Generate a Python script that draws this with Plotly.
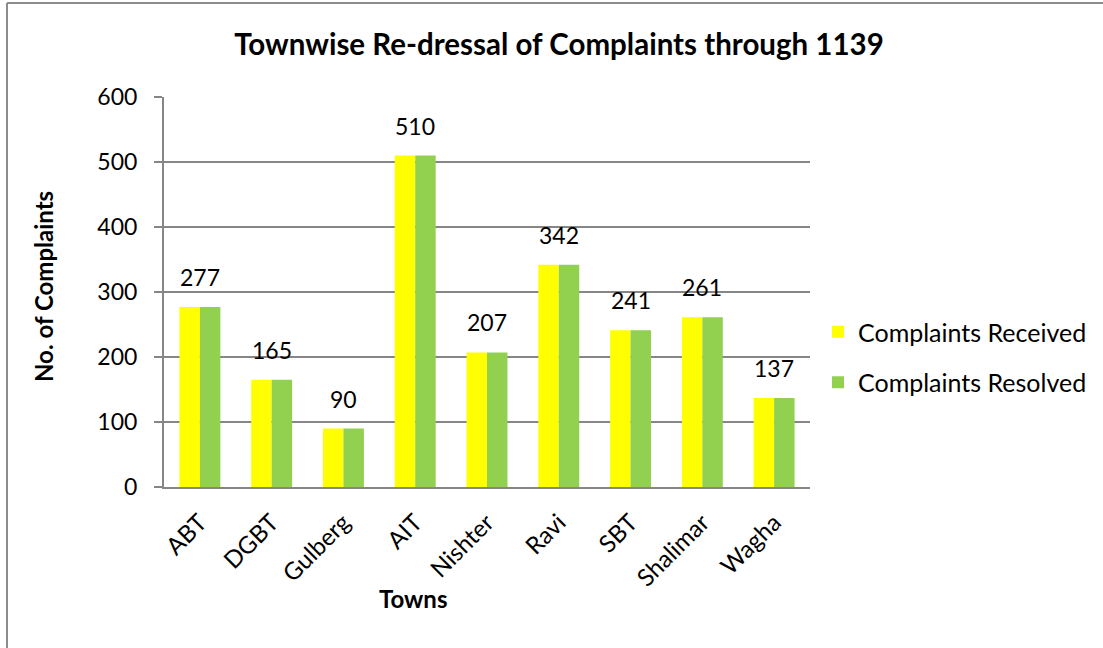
import plotly.graph_objects as go

towns = ["ABT", "DGBT", "Gulberg", "AIT", "Nishter", "Ravi", "SBT", "Shalimar", "Wagha"]
received = [277, 165, 90, 510, 207, 342, 241, 261, 137]
resolved = [277, 165, 90, 510, 207, 342, 241, 261, 137]
y_ticks = [0, 100, 200, 300, 400, 500, 600]

FONT = "Lato, Calibri, Carlito, sans-serif"
GRAY = "#868686"

W, H = 1103, 648
L, R, T, B = 164, 293, 97, 161
pw, ph = W - L - R, H - T - B

def px(x):
    return (x - L) / pw

def py(y):
    return (H - B - y) / ph

fig = go.Figure()
fig.add_trace(go.Bar(x=towns, y=received, name="Complaints Received",
                     marker=dict(color="#FFFF00", line=dict(width=0)),
                     legendgroup="a"))
fig.add_trace(go.Bar(x=towns, y=resolved, name="Complaints Resolved",
                     marker=dict(color="#92D050", line=dict(width=0)),
                     legendgroup="b"))

annotations = []
for t, v in zip(towns, received):
    annotations.append(dict(x=t, y=v, xref="x", yref="y", text=str(v),
                            showarrow=False, yanchor="bottom", yshift=14,
                            font=dict(family=FONT, size=23, color="#000000")))
annotations.append(dict(x=px(413), y=py(598), xref="paper", yref="paper",
                        text="<b>Towns</b>", showarrow=False,
                        xanchor="center", yanchor="middle",
                        font=dict(family=FONT, size=24, color="#000000")))
annotations.append(dict(x=px(43), y=py(287), xref="paper", yref="paper",
                        text="<b>No. of Complaints</b>", showarrow=False, textangle=-90,
                        xanchor="center", yanchor="middle",
                        font=dict(family=FONT, size=24, color="#000000")))

fig.update_layout(
    width=W, height=H,
    margin=dict(l=L, r=R, t=T, b=B, autoexpand=False),
    paper_bgcolor="white", plot_bgcolor="white",
    barmode="group", bargap=0.43, bargroupgap=0,
    title=dict(text="<b>Townwise Re-dressal of Complaints through 1139</b>",
               x=559 / W, xanchor="center", y=1 - 45 / H, yanchor="middle",
               font=dict(family=FONT, size=29.5, color="#000000")),
    font=dict(family=FONT, size=23, color="#000000"),
    legend=dict(x=px(818), y=py(357), xanchor="left", yanchor="middle",
                font=dict(family=FONT, size=25, color="#000000"),
                tracegroupgap=15, bgcolor="rgba(0,0,0,0)"),
    annotations=annotations,
    shapes=[
        dict(type="line", xref="paper", yref="paper",
             x0=px(7), x1=px(7), y0=py(3), y1=py(H + 10),
             line=dict(color="#8c8c8c", width=2), layer="below"),
        dict(type="line", xref="paper", yref="paper",
             x0=px(7), x1=px(W + 10), y0=py(3), y1=py(3),
             line=dict(color="#8c8c8c", width=2), layer="below"),
    ],
    xaxis=dict(tickangle=-45, showline=True, linecolor=GRAY, linewidth=2,
               ticks="", tickfont=dict(family=FONT, size=24, color="#000000"),
               ticklabelstandoff=10,
               showgrid=False, zeroline=False),
    yaxis=dict(range=[0, 600], tickvals=y_ticks, showline=True, linecolor=GRAY,
               linewidth=2, ticks="outside", ticklen=8, tickcolor=GRAY, tickwidth=2,
               showgrid=True, gridcolor=GRAY, gridwidth=2, zeroline=False,
               ticklabelstandoff=12,
               tickfont=dict(family=FONT, size=23, color="#000000")),
)

fig.write_html("out.html", config={"displayModeBar": False},
               post_script="document.body.style.margin='0';document.body.style.overflow='hidden';document.documentElement.style.overflow='hidden';")
